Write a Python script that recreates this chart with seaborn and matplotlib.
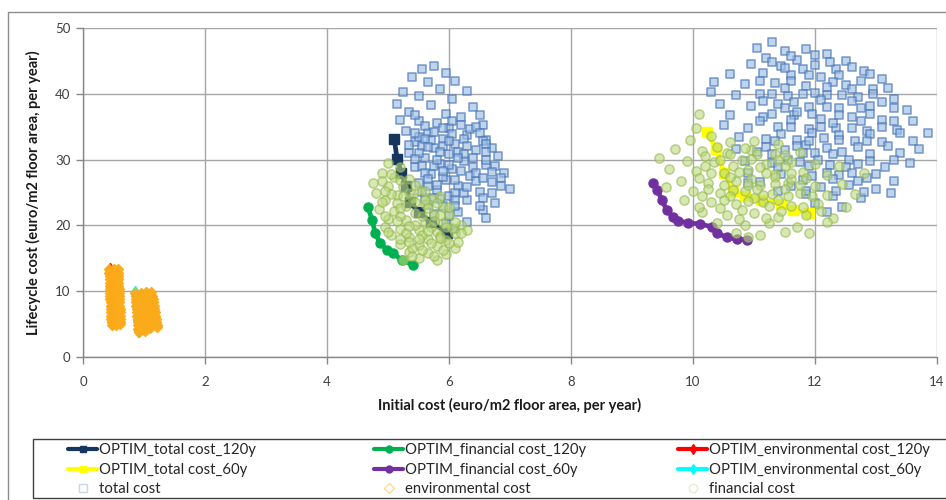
import matplotlib
matplotlib.use("Agg")
import matplotlib.pyplot as plt
import seaborn as sns
import numpy as np
from matplotlib.lines import Line2D
from matplotlib.patches import Rectangle

# ---------------- data ----------------
# Optimal fronts (lines)
opt_total120_x = [5.10, 5.15, 5.22, 5.30, 5.36, 5.50, 5.70, 5.97]
opt_total120_y = [33.2, 30.1, 28.0, 26.0, 23.6, 22.0, 20.5, 18.9]

opt_fin120_x = [4.67, 4.74, 4.79, 4.87, 4.98, 5.08, 5.23, 5.41]
opt_fin120_y = [22.8, 20.8, 18.8, 17.3, 16.3, 15.8, 14.7, 14.0]

opt_env120_x = [0.44, 0.45, 0.46, 0.47]
opt_env120_y = [13.4, 10.8, 7.8, 5.2]

opt_total60_x = [10.23, 10.38, 10.51, 10.66, 10.85, 11.11, 11.44, 11.64, 11.90]
opt_total60_y = [34.2, 31.6, 28.0, 25.2, 24.5, 23.9, 23.3, 22.3, 21.9]

opt_fin60_x = [9.34, 9.41, 9.49, 9.57, 9.67, 9.75, 9.92, 10.11, 10.31, 10.39, 10.56, 10.72, 10.89]
opt_fin60_y = [26.4, 25.4, 23.9, 22.3, 21.3, 20.7, 20.4, 20.2, 19.8, 18.8, 18.2, 17.9, 17.8]

opt_env60_x = [0.85, 0.87, 0.88, 0.90]
opt_env60_y = [9.9, 7.8, 5.6, 3.9]

# Clouds of evaluated solutions: total cost (squares)
total_x = [5.55, 5.75, 5.95, 5.40, 5.65, 6.10, 5.85, 6.30, 5.25, 5.50, 6.05, 5.15, 5.70, 6.40, 5.35,
           5.95, 6.20, 5.20, 5.50, 5.80, 6.55, 6.00, 5.30, 5.65, 6.30, 5.90, 6.60, 5.45, 6.10, 5.75,
           6.45, 5.35, 6.00, 6.80, 5.60, 6.25, 5.85, 6.60, 5.45, 6.05, 6.90, 5.70, 6.35, 5.95, 6.70,
           5.50, 6.15, 7.00, 5.80, 6.50, 6.00, 5.60, 6.30, 6.75, 5.90, 6.55, 6.15, 5.75, 6.60, 6.30,
           5.95, 6.10, 5.70, 5.90, 6.15, 5.75, 6.20, 5.90, 6.45, 5.65, 6.25, 5.85, 6.40, 5.55, 6.05,
           5.45, 6.35, 6.70, 6.85, 6.00, 5.50, 6.50,
           11.30, 11.05, 11.50, 11.85, 12.20, 11.20, 11.70, 12.50, 10.95, 11.45, 12.00, 12.35, 12.80,
           10.60, 11.15, 11.60, 12.10, 13.10, 10.35, 10.85, 11.35, 11.85, 12.50, 12.95, 10.30, 10.70,
           11.10, 11.55, 12.20, 12.70, 13.30, 10.45, 10.95, 11.40, 11.90, 12.40, 12.90, 13.50, 10.60,
           11.15, 11.65, 12.10, 12.60, 13.10, 13.60, 10.50, 10.90, 11.40, 11.90, 12.35, 12.85, 13.35,
           13.85, 10.75, 11.20, 11.70, 12.15, 12.65, 13.10, 13.60, 10.70, 11.05, 11.50, 12.00, 12.45,
           12.90, 13.40, 13.70, 10.85, 11.30, 11.75, 12.25, 12.70, 13.15, 13.55, 10.90, 11.45, 11.95,
           12.40, 12.85, 13.30, 11.10, 11.60, 12.10, 12.55, 13.00, 13.25, 11.85, 12.30, 12.75, 12.00,
           12.45, 12.20, 11.40, 10.90, 11.80, 12.00, 11.70, 12.30, 12.55, 11.85]
total_y = [43.8, 44.2, 43.2, 42.5, 41.8, 42.0, 40.8, 40.5, 40.2, 39.6, 39.2, 38.5, 38.3, 38.0, 37.2,
           37.0, 36.5, 36.0, 35.8, 35.5, 35.2, 34.8, 34.3, 34.0, 33.8, 33.2, 33.0, 32.6, 32.4, 31.8,
           31.5, 31.0, 30.8, 30.6, 30.2, 29.8, 29.4, 29.2, 28.8, 28.5, 28.0, 27.8, 27.5, 26.9, 26.6,
           26.4, 26.0, 25.5, 25.4, 25.1, 24.5, 24.2, 23.8, 23.4, 23.0, 22.4, 22.0, 21.8, 21.2, 20.5,
           20.2, 19.4, 33.0, 32.0, 31.2, 29.0, 28.2, 27.4, 26.8, 26.0, 24.9, 24.0, 30.2, 32.0, 35.8,
           36.8, 34.6, 31.8, 27.2, 21.5, 33.5, 36.8,
           47.8, 47.0, 46.5, 46.8, 46.0, 45.5, 45.2, 45.0, 44.6, 44.2, 44.4, 43.8, 43.5,
           43.0, 43.1, 42.8, 42.6, 42.2, 41.8, 41.5, 41.6, 41.2, 41.4, 40.8, 40.2, 39.8,
           40.0, 39.6, 39.8, 39.5, 39.2, 38.5, 38.2, 38.4, 38.0, 37.8, 38.1, 37.6, 36.8,
           36.5, 36.8, 36.2, 36.4, 36.0, 35.8, 35.2, 34.8, 35.0, 34.6, 34.8, 34.3, 34.5,
           34.0, 33.4, 33.2, 33.0, 33.3, 32.8, 32.6, 32.9, 31.6, 31.2, 31.5, 31.0, 31.2,
           30.8, 31.0, 31.6, 29.8, 29.5, 29.7, 29.2, 29.4, 28.8, 29.5, 28.0, 27.8, 27.5,
           27.7, 27.2, 26.8, 26.6, 26.0, 25.8, 26.2, 25.5, 24.9, 24.8, 24.4, 24.2, 23.4,
           22.8, 22.0, 25.2, 26.4, 43.7, 40.1, 37.2, 35.5, 30.0, 32.2]
# dense cores of the total-cost clouds (x, y)
total_core = [
    (5.60, 35.1), (5.90, 34.8), (6.20, 35.2), (6.45, 34.9),
    (5.45, 34.0), (5.75, 34.2), (6.05, 33.9), (6.50, 34.1),
    (5.60, 33.1), (6.00, 32.8), (6.25, 33.2), (6.55, 32.9),
    (5.35, 32.2), (5.65, 31.9), (6.30, 32.1), (6.60, 32.3),
    (5.50, 31.0), (5.85, 31.2), (6.25, 30.9), (6.60, 31.1),
    (5.45, 30.1), (5.80, 29.9), (6.15, 30.2), (6.60, 30.0),
    (5.55, 29.0), (6.00, 29.2), (6.40, 28.9), (6.75, 29.1),
    (5.60, 28.0), (5.90, 28.2), (6.45, 27.9), (6.70, 28.1),
    (5.65, 27.1), (6.10, 26.9), (6.55, 27.2),
    (5.80, 26.1), (6.30, 25.9), (6.85, 26.0),
    (5.55, 25.1), (6.10, 25.0), (6.70, 24.9),
    (5.75, 24.1), (6.10, 23.9), (6.55, 24.2),
    (5.65, 23.1), (6.10, 22.9), (6.50, 23.0),
    (11.60, 45.8), (12.00, 45.9),
    (11.30, 44.9), (12.25, 44.8),
    (11.50, 43.9), (12.60, 44.0),
    (11.90, 42.9), (12.40, 42.8), (12.90, 43.0),
    (11.10, 41.9), (11.60, 42.0), (12.30, 41.8), (12.75, 41.9),
    (11.50, 40.9), (12.20, 41.0), (12.60, 40.8), (13.20, 40.9),
    (11.30, 39.9), (11.80, 40.0), (12.45, 39.8), (12.95, 39.9),
    (11.15, 38.9), (11.65, 38.8), (12.10, 39.0), (12.60, 38.9), (13.10, 38.8),
    (11.50, 37.9), (12.20, 38.0), (12.75, 37.8), (13.30, 37.9),
    (11.30, 36.9), (11.95, 37.0), (12.40, 36.8), (12.90, 36.9),
    (11.10, 35.9), (11.60, 36.0), (12.75, 35.8), (13.30, 35.9),
    (11.60, 34.9), (12.10, 35.0), (12.60, 34.8), (13.10, 34.9),
    (11.45, 33.9), (11.95, 34.0), (12.40, 33.8), (12.90, 33.9), (13.40, 34.0),
    (11.35, 32.9), (11.90, 32.8), (12.40, 33.0), (12.85, 32.9),
    (11.20, 31.9), (11.70, 32.0), (12.20, 31.8), (12.70, 31.9), (13.20, 32.0),
    (11.30, 30.9), (11.80, 31.0), (12.30, 30.8),
    (11.55, 29.9), (12.05, 30.0), (12.90, 29.8), (13.30, 29.9),
    (11.40, 28.9), (11.90, 29.0), (12.50, 28.8),
    (12.20, 27.9), (12.60, 28.0), (13.00, 27.8),
    (11.80, 26.9), (12.30, 27.0), (12.70, 26.8),
    (11.85, 25.2), (12.35, 25.3), (12.80, 25.1),
]

# financial cost (circles)
fin_x = [5.00, 5.20, 4.90, 5.10, 5.35, 4.75, 5.00, 5.25, 5.50, 4.80, 5.15, 5.40, 5.70, 4.95, 5.60,
         5.30, 5.90, 4.85, 5.10, 5.45, 5.75, 6.00, 5.00, 5.30, 5.60, 5.90, 6.20, 4.95, 5.20, 5.50,
         5.80, 6.10, 6.30, 5.05, 5.35, 5.65, 5.95, 5.20, 5.50, 5.80, 6.10, 5.35, 5.65, 5.95, 5.50,
         5.80, 5.25, 5.60, 5.20, 5.45, 5.70, 5.30, 5.55, 5.85, 5.05, 5.35, 5.15, 6.05, 5.40, 5.70, 6.15,
         10.10, 10.05, 10.30, 9.95, 10.60, 11.00, 11.40, 9.70, 10.15, 10.55, 10.95, 11.35, 11.75,
         9.45, 9.90, 10.35, 10.80, 11.20, 11.60, 12.00, 12.40, 9.60, 10.05, 10.50, 10.90, 11.35,
         11.80, 12.20, 12.80, 9.80, 10.25, 10.70, 11.10, 11.55, 12.00, 12.45, 9.55, 10.00, 10.45,
         10.85, 11.30, 11.75, 12.20, 12.65, 9.85, 10.30, 10.70, 11.15, 11.60, 12.05, 12.50, 10.15,
         10.55, 11.00, 11.40, 11.85, 12.30, 10.40, 10.85, 11.25, 11.70, 12.20, 10.70, 11.10, 11.50,
         10.90, 11.90, 10.60, 11.00, 11.45, 10.20, 11.60]
fin_y = [29.5, 28.8, 28.0, 27.3, 27.0, 26.5, 26.0, 25.8, 25.4, 25.0, 24.6, 24.2, 24.0, 23.8, 23.2,
         23.0, 22.8, 22.5, 22.2, 21.9, 21.6, 21.8, 21.0, 20.8, 20.5, 20.3, 20.1, 19.8, 19.5, 19.3,
         19.0, 18.8, 19.3, 18.5, 18.2, 18.0, 17.8, 17.2, 17.0, 16.8, 16.6, 16.0, 15.8, 15.6, 15.0,
         14.8, 14.7, 23.9, 21.5, 20.0, 19.8, 18.9, 18.6, 18.4, 24.8, 25.0, 23.4, 19.6, 16.6, 17.4, 17.5,
         37.0, 34.8, 33.6, 33.0, 32.6, 32.9, 32.3, 31.6, 31.3, 31.0, 31.4, 30.9, 31.2,
         30.2, 29.8, 29.6, 29.9, 29.4, 29.7, 29.3, 29.0, 28.5, 28.2, 28.0, 28.4, 27.8,
         28.1, 27.6, 27.9, 26.8, 26.5, 26.7, 26.2, 26.5, 26.0, 26.3, 25.8, 25.2, 24.9,
         25.3, 24.7, 25.0, 24.6, 24.8, 23.8, 23.5, 23.2, 23.6, 23.0, 23.3, 22.8, 22.0,
         21.6, 21.9, 21.3, 21.6, 21.2, 20.4, 20.0, 20.3, 19.8, 20.5, 18.8, 18.6, 19.0,
         18.2, 18.9, 27.3, 24.2, 22.2, 30.5, 27.0]
fin_core = [
    (5.05, 27.8), (4.90, 26.8), (5.20, 26.9), (5.45, 26.2),
    (4.95, 25.3), (5.60, 25.2), (5.25, 24.5), (5.85, 24.4),
    (4.90, 23.5), (5.45, 23.6), (5.80, 23.4), (5.20, 22.7), (5.65, 22.6), (6.00, 22.8),
    (4.95, 21.5), (5.55, 21.4), (5.85, 21.6), (5.15, 20.6), (5.75, 20.7), (6.10, 20.5),
    (5.35, 19.9), (5.95, 19.8), (5.00, 19.0), (5.65, 19.1), (6.20, 18.9),
    (5.20, 18.0), (5.50, 17.9), (5.85, 18.1), (5.35, 17.5), (6.00, 17.4),
    (5.55, 16.3), (5.90, 16.2), (5.40, 15.4), (5.75, 15.3),
    (10.40, 31.9), (10.85, 31.8),
    (10.60, 30.8), (11.05, 30.9), (11.50, 30.7),
    (10.45, 30.0), (10.95, 30.1), (11.40, 29.9),
    (10.20, 29.0), (10.65, 29.1), (11.10, 28.9), (11.50, 29.0),
    (10.30, 28.0), (10.75, 28.1), (11.20, 27.9), (11.60, 28.0),
    (10.10, 27.2), (10.95, 27.1), (11.35, 27.3), (11.85, 27.2),
    (10.50, 26.2), (10.90, 26.1), (11.35, 26.3), (11.75, 26.2),
    (10.25, 25.5), (10.65, 25.4), (11.05, 25.6), (11.50, 25.5),
    (10.15, 24.5), (10.60, 24.4), (11.15, 24.6), (11.55, 24.5), (11.95, 24.4),
    (10.50, 23.8), (10.90, 23.7), (11.40, 23.9),
    (10.10, 22.8), (10.45, 22.7), (11.25, 22.9), (11.80, 22.8),
    (10.80, 22.3), (12.10, 22.2), (10.75, 21.0), (11.20, 21.1),
]

# environmental cost (diamonds), two compact blocks
env_pts = [
    (0.430, 13.3), (0.500, 13.3), (0.570, 13.4),
    (0.430, 12.8), (0.500, 12.8), (0.570, 12.8),
    (0.435, 12.3), (0.505, 12.3), (0.575, 12.3),
    (0.435, 11.8), (0.505, 11.8), (0.575, 11.8),
    (0.440, 11.3), (0.510, 11.3), (0.580, 11.3),
    (0.440, 10.8), (0.510, 10.8), (0.580, 10.8),
    (0.445, 10.3), (0.515, 10.3), (0.585, 10.3),
    (0.445, 9.8), (0.515, 9.8), (0.585, 9.8),
    (0.450, 9.3), (0.520, 9.3), (0.590, 9.3),
    (0.450, 8.8), (0.520, 8.8), (0.590, 8.8),
    (0.455, 8.3), (0.525, 8.3), (0.595, 8.3),
    (0.455, 7.8), (0.525, 7.8), (0.595, 7.8),
    (0.460, 7.3), (0.530, 7.3), (0.600, 7.3),
    (0.460, 6.8), (0.530, 6.8), (0.600, 6.8),
    (0.465, 6.3), (0.535, 6.3), (0.605, 6.3),
    (0.465, 5.8), (0.535, 5.8), (0.605, 5.8),
    (0.470, 5.3), (0.540, 5.3), (0.610, 5.3),
    (0.470, 4.8), (0.540, 4.9), (0.610, 5.0),
    (0.860, 9.8), (0.950, 9.8), (1.040, 9.9), (1.120, 9.9),
    (0.865, 9.3), (0.955, 9.3), (1.045, 9.3), (1.130, 9.3),
    (0.870, 8.8), (0.960, 8.8), (1.050, 8.8), (1.140, 8.8),
    (0.870, 8.3), (0.965, 8.3), (1.060, 8.3), (1.150, 8.3),
    (0.875, 7.8), (0.970, 7.8), (1.065, 7.8), (1.160, 7.8),
    (0.880, 7.3), (0.975, 7.3), (1.070, 7.3), (1.165, 7.3),
    (0.885, 6.8), (0.980, 6.8), (1.080, 6.8), (1.175, 6.8),
    (0.890, 6.3), (0.985, 6.3), (1.085, 6.3), (1.185, 6.3),
    (0.895, 5.8), (0.990, 5.8), (1.090, 5.8), (1.190, 5.8),
    (0.900, 5.3), (0.995, 5.3), (1.095, 5.3), (1.200, 5.3),
    (0.900, 4.8), (1.000, 4.8), (1.100, 4.8), (1.210, 4.8),
    (0.905, 4.3), (1.005, 4.3), (1.105, 4.4), (1.215, 4.6),
    (0.910, 3.8), (1.010, 3.9),
]

x_ticks = [0, 2, 4, 6, 8, 10, 12, 14]
y_ticks = [0, 10, 20, 30, 40, 50]

# ---------------- assemble ----------------
tc_x = list(total_x) + [p[0] for p in total_core]
tc_y = list(total_y) + [p[1] for p in total_core]
fc_x = list(fin_x) + [p[0] for p in fin_core]
fc_y = list(fin_y) + [p[1] for p in fin_core]
ec_x = [p[0] for p in env_pts]
ec_y = [p[1] for p in env_pts]

sns.set_theme(style="white")
plt.rcParams["font.family"] = ["Lato", "DejaVu Sans"]

W, H = 946, 500
fig = plt.figure(figsize=(W / 100, H / 100), dpi=100)
ax = fig.add_axes([83 / W, 1 - 357 / H, (937 - 83) / W, (357 - 28) / H])

line_specs = [
    (opt_total120_x, opt_total120_y, "#17365D", "s"),
    (opt_fin120_x, opt_fin120_y, "#00B050", "o"),
    (opt_env120_x, opt_env120_y, "#FF0000", "d"),
    (opt_total60_x, opt_total60_y, "#FFFF00", "s"),
    (opt_fin60_x, opt_fin60_y, "#7030A0", "o"),
    (opt_env60_x, opt_env60_y, "#00FFFF", "d"),
]
for lx, ly, c, m in line_specs:
    sns.lineplot(x=lx, y=ly, sort=False, estimator=None, color=c, lw=3.4, marker=m,
                 markersize=6.5, markeredgecolor=c, markeredgewidth=1, ax=ax, zorder=3,
                 legend=False)

blue = (0.27, 0.46, 0.72)
blue_face = (0.62, 0.74, 0.89)
green = (0.58, 0.72, 0.30)
green_face = (0.74, 0.85, 0.50)
orange = (0.985, 0.667, 0.10)

sns.scatterplot(x=tc_x, y=tc_y, marker="s", s=40, facecolor=blue_face,
                edgecolor=blue, linewidth=1.2, alpha=0.65, ax=ax, zorder=4, legend=False)
sns.scatterplot(x=fc_x, y=fc_y, marker="o", s=44, facecolor=green_face,
                edgecolor=green, linewidth=1.1, alpha=0.6, ax=ax, zorder=5, legend=False)
sns.scatterplot(x=ec_x, y=ec_y, marker="D", s=26, facecolor=orange,
                edgecolor=orange, linewidth=1.0, alpha=0.95, ax=ax, zorder=6, legend=False)

ax.set_xlim(0, 14)
ax.set_ylim(0, 50)
ax.set_xticks(x_ticks)
ax.set_yticks(y_ticks)
ax.grid(True, color="#A6A6A6", lw=1)
ax.set_axisbelow(True)
for s in ["top", "right"]:
    ax.spines[s].set_visible(False)
for s in ["left", "bottom"]:
    ax.spines[s].set_color("#868686")
    ax.spines[s].set_linewidth(1)
ax.tick_params(axis="both", which="major", direction="out", length=5, width=1,
               color="#868686", labelsize=9.5, labelcolor="#404040", pad=4,
               left=True, bottom=True)
ax.tick_params(axis="x", pad=9)
ax.set_xlabel("Initial cost (euro/m2 floor area, per year)", fontsize=10.5,
              fontweight="bold", color="#1a1a1a", labelpad=7)
ax.set_ylabel("Lifecycle cost (euro/m2 floor area, per year)", fontsize=10.5,
              fontweight="bold", color="#1a1a1a", labelpad=10)

# outer chart border
fig.patches.append(Rectangle((8 / W, -0.05), 1.1, 1 - 12 / H + 0.05, transform=fig.transFigure,
                             fill=False, edgecolor="#8C8C8C", lw=1, zorder=0))
# legend box
fig.patches.append(Rectangle((33 / W, 2 / H), 1.0, (61 - 2) / H, transform=fig.transFigure,
                             fill=False, edgecolor="#404040", lw=1, zorder=1))

def lh(c, m, label):
    return Line2D([0], [0], color=c, lw=3, marker=m, markersize=5, markeredgecolor=c,
                  label=label)

cols = [
    [lh("#17365D", "s", "OPTIM_total cost_120y"),
     lh("#FFFF00", "s", "OPTIM_total cost_60y"),
     Line2D([0], [0], lw=0, marker="s", markersize=6, markerfacecolor="none",
            markeredgecolor=blue + (0.3,), label="total cost")],
    [lh("#00B050", "o", "OPTIM_financial cost_120y"),
     lh("#7030A0", "o", "OPTIM_financial cost_60y"),
     Line2D([0], [0], lw=0, marker="D", markersize=5, markerfacecolor="none",
            markeredgecolor=orange + (0.45,), label="environmental cost")],
    [lh("#FF0000", "d", "OPTIM_environmental cost_120y"),
     lh("#00FFFF", "d", "OPTIM_environmental cost_60y"),
     Line2D([0], [0], lw=0, marker="o", markersize=6, markerfacecolor="none",
            markeredgecolor=green + (0.25,), label="financial cost")],
]
col_x = [58, 364, 668]
for cx, handles in zip(col_x, cols):
    fig.legend(handles=handles, loc="upper left", bbox_to_anchor=(cx / W, 1 - 433 / H),
               frameon=False, ncol=1, handlelength=1.95, handletextpad=0.08,
               labelspacing=0.37, borderpad=0.2,
               prop={"family": ["Lato", "DejaVu Sans"], "size": 10.7})

fig.savefig("out.png", dpi=100)
